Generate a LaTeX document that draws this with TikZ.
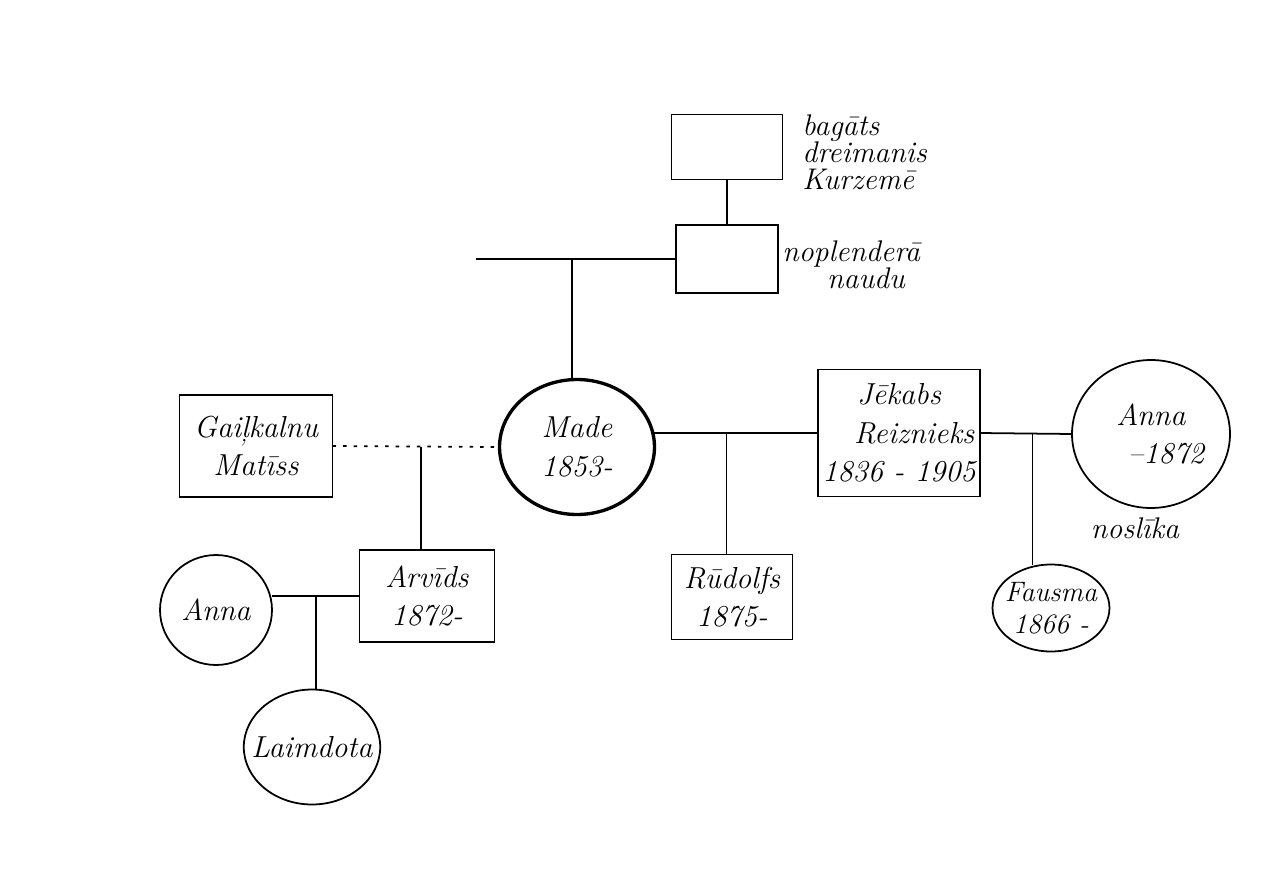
\documentclass[tikz,border=0pt]{standalone}
\usepackage{tikz}
\usetikzlibrary{shapes.geometric}

\tikzset{
  pbox/.style={draw, line width=1pt, inner sep=0pt, outer sep=0pt, align=center, font=\LARGE\itshape},
  pcirc/.style={draw, ellipse, line width=1pt, inner sep=0pt, outer sep=0pt, align=center, font=\LARGE\itshape},
  note/.style={align=left, inner sep=0pt, font=\fontsize{17}{15.5}\selectfont\itshape},
  tie/.style={line width=1pt},
  affair/.style={line width=1pt, dash pattern=on 2pt off 4pt}
}

\begin{document}
\begin{tikzpicture}[x=0.02cm, y=-0.02cm]
  \useasboundingbox (0,0) rectangle (1269,896);
  % grandparents
  \node[pbox, minimum width=2.22cm, minimum height=1.3cm] (rich) at (727,147) {};
  \node[note, anchor=north west] (richtxt) at (802,114) {bagāts\\dreimanis\\Kurzemē};
  \node[pbox, minimum width=2.04cm, minimum height=1.36cm] (spender) at (727,259) {};
  \node[note, anchor=north west] (spendtxt) at (782,240) {noplenderā\\\hspace{1.5em}naudu};
  \draw[tie] (rich) -- (spender);
  \coordinate (wife0) at (476,259);
  \draw[tie] (wife0) -- (spender.west) coordinate[pos=0.48] (k0);
  % Made and her partners
  \node[pcirc, line width=1.9pt, minimum width=3.1cm, minimum height=2.7cm] (made) at (577,447) {Made\\1853-};
  \draw[tie] (k0) -- (k0 |- made.north);
  \node[pbox, minimum width=3.06cm, minimum height=2.04cm] (gaik) at (256,446) {Gaiļkalnu\\Matīss};
  \node[pbox, minimum width=3.24cm, minimum height=2.54cm] (jekabs) at (899,433) {Jēkabs\\\hspace{1em}Reiznieks\\1836 - 1905};
  \node[pcirc, inner sep=-4pt, minimum width=3.16cm, minimum height=2.96cm] (annar) at (1151,434) {Anna\\\hspace{1em}--1872};
  \node[note] (drowned) at (1135,528) {noslīka};
  \draw[affair] (gaik.east) -- (made.west) coordinate[pos=0.53] (k1);
  \draw[tie] (jekabs.west -| made.east) -- (jekabs.west) coordinate[pos=0.44] (k2);
  \draw[tie] (jekabs.east) -- (annar.west) coordinate[pos=0.57] (k3);
  % children
  \node[pbox, minimum width=2.7cm, minimum height=1.84cm] (arvids) at (427,596) {Arvīds\\1872-};
  \node[pbox, minimum width=2.42cm, minimum height=1.7cm] (rudolfs) at (732,597) {Rūdolfs\\1875-};
  \node[pcirc, font=\fontsize{16}{18}\selectfont\itshape, inner sep=-4pt, minimum width=2.34cm, minimum height=1.74cm] (fausma) at (1051,608) {Fausma\\1866 -};
  \draw[tie] (k1) -- (k1 |- arvids.north);
  \draw[tie] (k2) -- (k2 |- rudolfs.north);
  \draw[tie] (k3) -- (k3 |- fausma.north);
  % Arvids' family
  \node[pcirc, minimum width=2.24cm, minimum height=2.2cm] (annal) at (216,610) {Anna};
  \node[pcirc, inner sep=-7pt, minimum width=2.7cm, minimum height=2.3cm] (laimdota) at (312,747) {Laimdota};
  \draw[tie] (arvids.west -| annal.east) -- (arvids.west) coordinate[pos=0.5] (k4);
  \draw[tie] (k4) -- (k4 |- laimdota.north);
\end{tikzpicture}
\end{document}
